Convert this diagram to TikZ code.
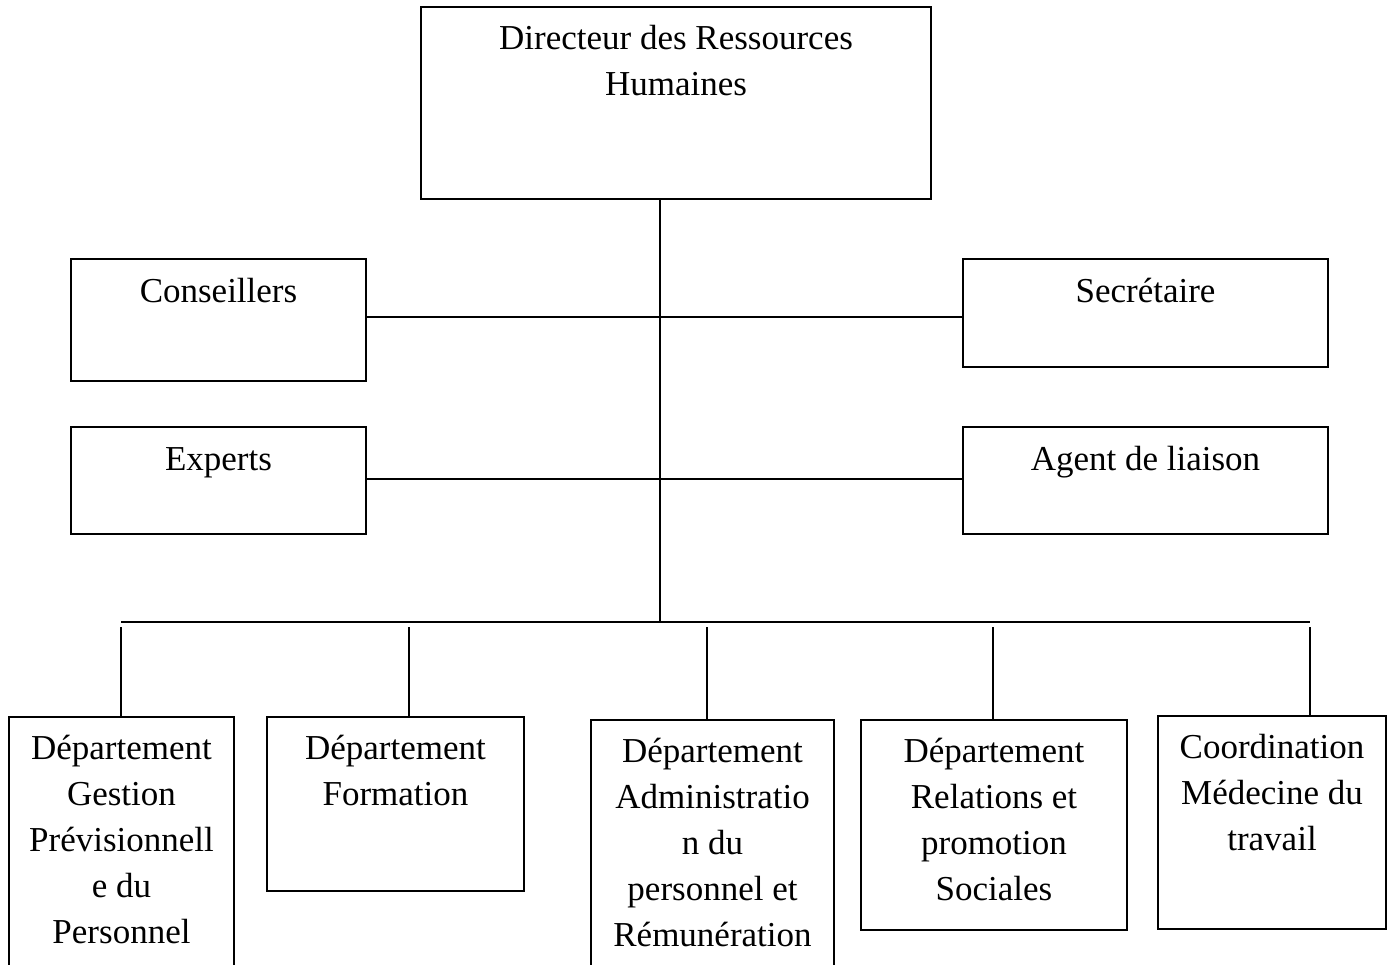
\documentclass[tikz,border=0pt]{standalone}
\usepackage{fontspec}
\setmainfont{Liberation Serif}

\tikzset{
	unit/.style={draw,line width=1.6pt,anchor=north,inner sep=0pt},
	caption/.style={anchor=north,inner sep=0pt,yshift=-11.8pt,align=center,
		font=\fontsize{35}{46}\selectfont,execute at begin node=\strut},
	lines/.style={caption,yshift=-7.5pt},
	link/.style={line width=1.6pt}
}

\begin{document}
\begin{tikzpicture}[x=1pt,y=-1pt]
		\useasboundingbox (0,0) rectangle (1389,965);
		\clip (0,0) rectangle (1389,965);
		
		% director
		\node[unit,minimum width=510,minimum height=192,label={[lines]north:Directeur des Ressources\\Humaines}] (drh) at (676,6) {};
		
		% staff boxes
		\node[unit,minimum width=295,minimum height=122,label={[caption]north:Conseillers}] (cons) at (218.5,258) {};
		\node[unit,minimum width=365,minimum height=108,label={[caption]north:Secrétaire}] (sec) at (1145.5,258) {};
		\node[unit,minimum width=295,minimum height=107,label={[caption]north:Experts}] (exp) at (218.5,426) {};
		\node[unit,minimum width=365,minimum height=107,label={[caption]north:Agent de liaison}] (agent) at (1145.5,426) {};
		
		% departments
		\node[unit,minimum width=225,minimum height=300,label={[lines]north:Département\\Gestion\\Prévisionnell\\e du\\Personnel}] (gp) at (121.5,716) {};
		\node[unit,minimum width=257,minimum height=174,label={[lines]north:Département\\Formation}] (form) at (395.5,716) {};
		\node[unit,minimum width=243,minimum height=300,label={[lines]north:Département\\Administratio\\n du\\personnel et\\Rémunération}] (adm) at (712.5,719) {};
		\node[unit,minimum width=266,minimum height=210,label={[lines]north:Département\\Relations et\\promotion\\Sociales}] (rel) at (994,719) {};
		\node[unit,minimum width=228,minimum height=213,label={[lines]north:Coordination\\Médecine du\\travail}] (med) at (1272,715) {};
		
		% trunk and branches
		\coordinate (trunk) at (660,622);
		\coordinate (h1) at (660,317);
		\coordinate (h2) at (660,479);
		\draw[link] (drh.south -| trunk) -- (trunk);
		\draw[link] (cons.east |- h1) -- (sec.west |- h1);
		\draw[link] (exp.east |- h2) -- (agent.west |- h2);
		
		% bus and drops
		\coordinate (busl) at (121,622);
		\coordinate (busr) at (1310,622);
		\draw[link] (busl) -- (busr);
		\foreach \x/\b in {121/gp,409/form,707/adm,993/rel,1310/med}{
			\coordinate (d\b) at (\x,627);
			\draw[link] (d\b) -- (d\b |- \b.north);
		}
	\end{tikzpicture}
\end{document}
